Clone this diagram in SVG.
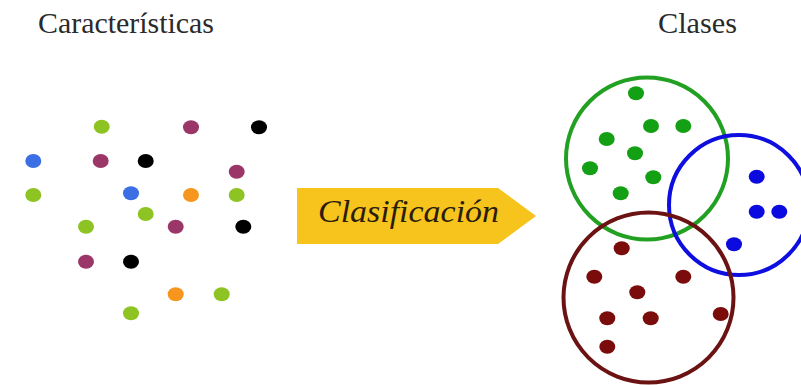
<svg xmlns="http://www.w3.org/2000/svg" width="801" height="385" viewBox="0 0 801 385">
  <style>
    .title { font-family: "Liberation Serif", "Times New Roman", serif; font-size: 30px; fill: #2a2a2a; }
    .label { font-family: "Liberation Serif", "Times New Roman", serif; font-style: italic; font-size: 32px; fill: #2b1c0c; }
    .lime { fill: #8dc322; }
    .plum { fill: #9a3768; }
    .ink { fill: #000000; }
    .sky { fill: #3b6fe3; }
    .amber { fill: #f6961f; }
    .g { fill: #14a014; }
    .b { fill: #0b0be0; }
    .r { fill: #7a0c0c; }
    .ring { fill: none; stroke-width: 4; }
  </style>
  <defs>
    <ellipse id="dot" cx="0" cy="0" rx="8" ry="7"/>
  </defs>
  <rect width="801" height="385" fill="#ffffff"/>

  <text id="title-features" class="title" x="38" y="33" textLength="176" lengthAdjust="spacingAndGlyphs">Características</text>
  <text id="title-classes" class="title" x="658" y="33" textLength="79" lengthAdjust="spacingAndGlyphs">Clases</text>

  <!-- unlabelled feature points -->
  <g id="features">
    <use href="#dot" class="lime" x="101.7" y="126.7"/>
    <use href="#dot" class="plum" x="191" y="127.3"/>
    <use href="#dot" class="ink" x="259" y="127.3"/>
    <use href="#dot" class="sky" x="33.3" y="161"/>
    <use href="#dot" class="plum" x="100.7" y="161"/>
    <use href="#dot" class="ink" x="145.7" y="161"/>
    <use href="#dot" class="plum" x="236.7" y="171.7"/>
    <use href="#dot" class="lime" x="33.3" y="195"/>
    <use href="#dot" class="sky" x="131" y="193.3"/>
    <use href="#dot" class="amber" x="191" y="195"/>
    <use href="#dot" class="lime" x="236.7" y="195"/>
    <use href="#dot" class="lime" x="145.7" y="214"/>
    <use href="#dot" class="lime" x="86" y="226.7"/>
    <use href="#dot" class="plum" x="175.7" y="226.7"/>
    <use href="#dot" class="ink" x="243.3" y="226.7"/>
    <use href="#dot" class="plum" x="86" y="261.7"/>
    <use href="#dot" class="ink" x="131" y="261.7"/>
    <use href="#dot" class="amber" x="175.7" y="294.3"/>
    <use href="#dot" class="lime" x="221.7" y="294.3"/>
    <use href="#dot" class="lime" x="131" y="313.3"/>
  </g>

  <!-- classification arrow -->
  <g id="arrow">
    <polygon points="297,188 498,188 536,216 498,244 297,244" fill="#f6c41c"/>
    <text class="label" x="318" y="222" textLength="181" lengthAdjust="spacingAndGlyphs">Clasificación</text>
  </g>

  <!-- resulting classes -->
  <g id="class-green">
    <circle class="ring" cx="647" cy="158.5" r="81" stroke="#22a022"/>
    <use href="#dot" class="g" x="636" y="93.3"/>
    <use href="#dot" class="g" x="651" y="126"/>
    <use href="#dot" class="g" x="683.3" y="126"/>
    <use href="#dot" class="g" x="606.7" y="139"/>
    <use href="#dot" class="g" x="635" y="153.3"/>
    <use href="#dot" class="g" x="590" y="168.3"/>
    <use href="#dot" class="g" x="653.3" y="177.3"/>
    <use href="#dot" class="g" x="620.7" y="193.3"/>
  </g>
  <g id="class-blue">
    <circle class="ring" cx="739" cy="205" r="70" stroke="#0e0ee0"/>
    <use href="#dot" class="b" x="756.7" y="176.7"/>
    <use href="#dot" class="b" x="756.7" y="211.7"/>
    <use href="#dot" class="b" x="779.3" y="211.7"/>
    <use href="#dot" class="b" x="734" y="244.3"/>
  </g>
  <g id="class-red">
    <circle class="ring" cx="648.5" cy="297.5" r="85" stroke="#6b1212"/>
    <use href="#dot" class="r" x="621.7" y="248.3"/>
    <use href="#dot" class="r" x="594.3" y="276.7"/>
    <use href="#dot" class="r" x="683.3" y="276.7"/>
    <use href="#dot" class="r" x="637.3" y="292.3"/>
    <use href="#dot" class="r" x="720.7" y="314"/>
    <use href="#dot" class="r" x="607.3" y="318.3"/>
    <use href="#dot" class="r" x="650.7" y="318.3"/>
    <use href="#dot" class="r" x="607.3" y="346.7"/>
  </g>
</svg>
